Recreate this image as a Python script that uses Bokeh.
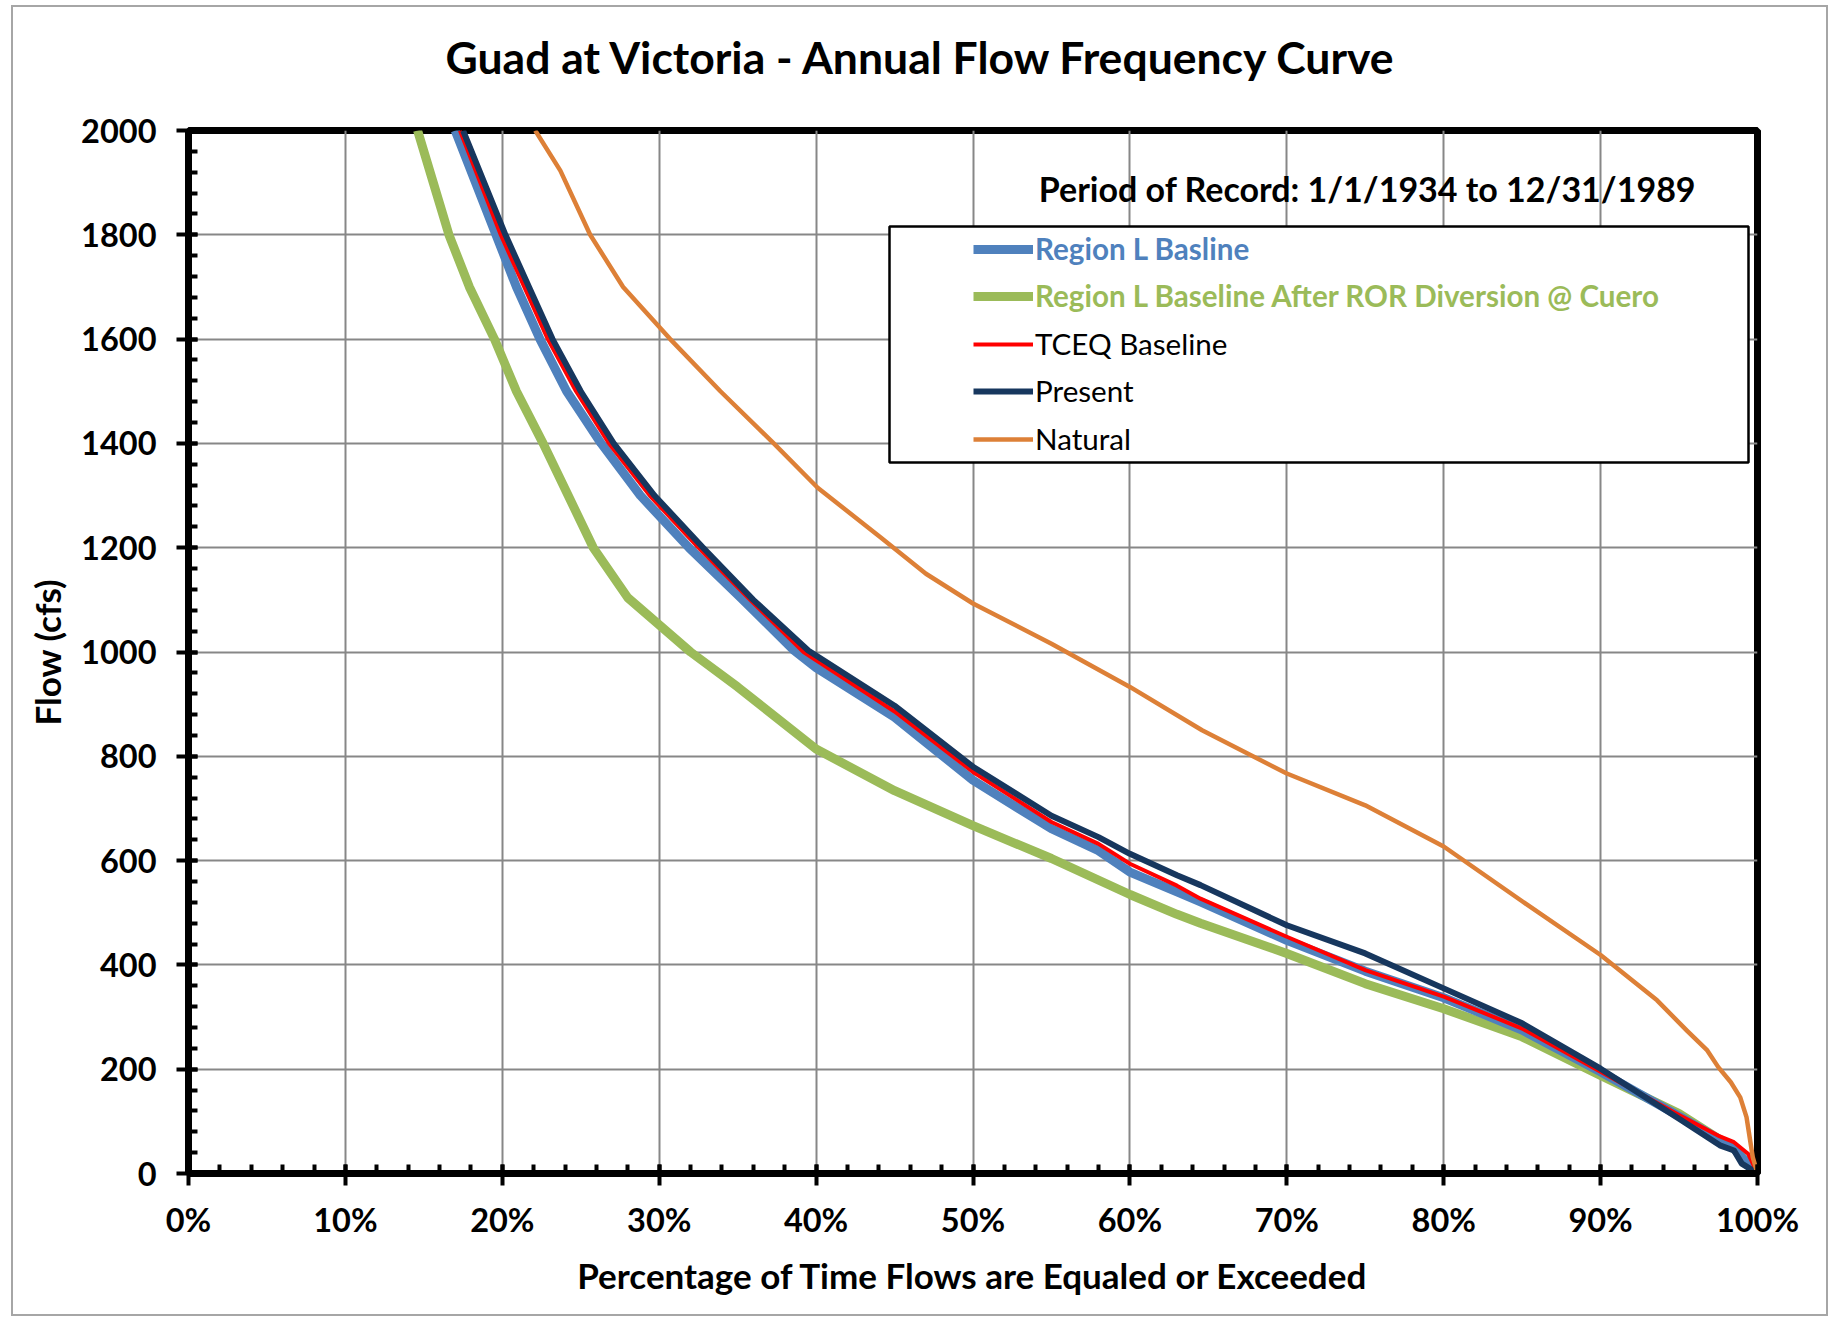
from bokeh.plotting import figure
from bokeh.models import (Range1d, SingleIntervalTicker, PrintfTickFormatter, Legend, LegendItem,
                          BoxAnnotation, Label, InlineStyleSheet)
from bokeh.embed import file_html
from bokeh.resources import INLINE

TITLE = "Guad at Victoria - Annual Flow Frequency Curve"
SUBTITLE = "Period of Record: 1/1/1934 to 12/31/1989"
X_LABEL = "Percentage of Time Flows are Equaled or Exceeded"
Y_LABEL = "Flow (cfs)"

# Region L Basline
regl_pct = [17.0, 19.6, 20.9, 22.4, 24.1, 26.3, 28.8, 31.9, 35.2, 38.6, 40.0, 45.0, 50.0, 55.0,
            58.0, 60.0, 63.0, 64.5, 70.0, 75.0, 80.0, 85.0, 90.0, 95.0, 97.6, 98.5, 99.2, 100.0]
regl_flow = [2000, 1800, 1700, 1600, 1500, 1400, 1300, 1200, 1104, 1003, 970, 875, 754, 661,
             619, 578, 540, 521, 447, 388, 337, 275, 195, 110, 65, 48, 25, 0]

# Region L Baseline After ROR Diversion @ Cuero
ror_pct = [14.6, 15.6, 16.6, 17.9, 19.5, 20.9, 22.6, 24.2, 25.8, 28.0, 32.0, 35.0, 40.0, 45.0,
           50.0, 55.0, 60.0, 63.0, 64.5, 70.0, 75.0, 80.0, 85.0, 90.0, 95.0, 98.5, 100.0]
ror_flow = [2000, 1900, 1800, 1700, 1600, 1500, 1400, 1300, 1200, 1104, 1000, 933, 814, 734,
            667, 604, 535, 497, 480, 422, 364, 316, 262, 188, 115, 48, 0]

# TCEQ Baseline
tceq_pct = [17.3, 19.9, 21.4, 22.9, 24.7, 26.8, 29.4, 32.5, 35.8, 39.2, 45.0, 50.0, 55.0, 58.0,
            60.0, 63.0, 64.5, 70.0, 75.0, 80.0, 85.0, 90.0, 95.0, 97.6, 98.5, 99.4, 100.0]
tceq_flow = [2000, 1800, 1700, 1600, 1500, 1400, 1300, 1200, 1100, 1000, 886, 770, 674, 632,
             594, 552, 527, 454, 390, 339, 278, 195, 112, 71, 60, 38, 0]

# Present
pres_pct = [17.5, 20.2, 21.7, 23.2, 25.0, 27.1, 29.7, 32.8, 36.0, 39.5, 45.0, 50.0, 55.0, 58.0,
            60.0, 63.0, 64.5, 70.0, 75.0, 80.0, 85.0, 90.0, 95.0, 97.6, 98.5, 99.0, 100.0]
pres_flow = [2000, 1800, 1700, 1600, 1500, 1400, 1300, 1200, 1100, 1003, 897, 780, 686, 645,
             613, 572, 553, 476, 422, 355, 288, 201, 105, 54, 44, 19, 0]

# Natural
nat_pct = [22.1, 23.7, 25.6, 27.7, 30.7, 33.9, 37.3, 40.1, 44.1, 47.0, 50.0, 55.0, 60.0, 64.6,
           70.0, 75.0, 80.0, 85.0, 90.0, 93.6, 95.5, 96.8, 97.5, 98.3, 98.9, 99.3, 99.7, 100.0]
nat_flow = [2000, 1923, 1800, 1700, 1600, 1500, 1400, 1315, 1220, 1150, 1093, 1016, 933, 850,
            767, 706, 627, 522, 419, 332, 274, 236, 204, 175, 146, 108, 31, 0]

FONT = "Lato"

p = figure(width=1835, height=1320, output_backend="svg", toolbar_location=None,
           x_range=Range1d(0, 100), y_range=Range1d(0, 2000),
           min_border_left=188, min_border_right=78, min_border_top=130, min_border_bottom=147,
           background_fill_color="white", border_fill_color="white")
# thin grey chart-area border, drawn as an overlay that does not alter the layout
p.stylesheets = [InlineStyleSheet(css=(
    ":host::after { content: ''; position: absolute; top: 5px; left: 11px; right: 7px; "
    "bottom: 4px; border: 2px solid #A6A6A6; pointer-events: none; z-index: 1000; }"))]

p.title.text = TITLE + "\n"
p.title.align = "left"
p.title.offset = 257
p.title.vertical_align = "bottom"
p.title.standoff = -11
p.title.text_font = FONT
p.title.text_font_style = "bold"
p.title.text_font_size = "44.5px"
p.title.text_color = "black"

p.outline_line_color = "black"
p.outline_line_width = 7

# axes
for ax in (p.xaxis[0], p.yaxis[0]):
    ax.axis_line_color = "black"
    ax.axis_line_width = 7
    ax.major_tick_line_color = "black"
    ax.major_tick_line_width = 4
    ax.major_tick_in = 9
    ax.major_tick_out = 12
    ax.minor_tick_line_color = "black"
    ax.minor_tick_line_width = 4
    ax.minor_tick_in = 9
    ax.minor_tick_out = 0
    ax.major_label_text_font = FONT
    ax.major_label_text_font_style = "bold"
    ax.major_label_text_font_size = "32.5px"
    ax.major_label_text_color = "black"
    ax.axis_label_text_font = FONT
    ax.axis_label_text_font_style = "bold"
    ax.axis_label_text_font_size = "35px"
    ax.axis_label_text_color = "black"

xt = SingleIntervalTicker(interval=10, num_minor_ticks=5)
yt = SingleIntervalTicker(interval=200, num_minor_ticks=5)
p.xaxis.ticker = xt
p.yaxis.ticker = yt
p.xgrid.ticker = xt
p.ygrid.ticker = yt
p.xaxis.formatter = PrintfTickFormatter(format="%d%%")
p.xaxis.axis_label = X_LABEL
p.yaxis.axis_label = Y_LABEL
p.xaxis.major_label_standoff = 14
p.yaxis.major_label_standoff = 20
p.xaxis.axis_label_standoff = 12
p.yaxis.axis_label_standoff = 10

for g in (p.xgrid[0], p.ygrid[0]):
    g.grid_line_color = "#878787"
    g.grid_line_width = 2

# series
r_ror = p.line(ror_pct, ror_flow, line_color="#9BBB59", line_width=9, line_join="round")
r_regl = p.line(regl_pct, regl_flow, line_color="#4F81BD", line_width=9, line_join="round")
r_tceq = p.line(tceq_pct, tceq_flow, line_color="#FF0000", line_width=4, line_join="round")
r_pres = p.line(pres_pct, pres_flow, line_color="#17375E", line_width=6, line_join="round")
r_nat = p.line(nat_pct, nat_flow, line_color="#DD8037", line_width=4.5, line_join="round")

# legend frame
p.add_layout(BoxAnnotation(left=889, right=1748, top=226, bottom=462,
                           left_units="canvas", right_units="canvas",
                           top_units="canvas", bottom_units="canvas",
                           fill_color="white", fill_alpha=1, line_color="black",
                           line_alpha=1, line_width=2.5))

entries = [
    ("Region L Basline", r_regl, "#4F81BD", "bold", 249),
    ("Region L Baseline After ROR Diversion @ Cuero", r_ror, "#9BBB59", "bold", 296),
    ("TCEQ Baseline", r_tceq, "black", "normal", 344),
    ("Present", r_pres, "black", "normal", 391),
    ("Natural", r_nat, "black", "normal", 439),
]
for label, rend, color, style, row in entries:
    lg = Legend(items=[LegendItem(label=label, renderers=[rend])],
                location=(785, 1173 - (row + 17)),
                border_line_alpha=0, background_fill_alpha=0,
                padding=0, margin=0, spacing=0,
                glyph_width=60, glyph_height=34, label_height=34, label_standoff=2,
                label_text_font=FONT, label_text_font_size="29.6px",
                label_text_font_style=style, label_text_color=color,
                label_text_baseline="middle")
    p.add_layout(lg)

p.add_layout(Label(x=1367, y=188, x_units="canvas", y_units="canvas", text=SUBTITLE,
                   text_align="center", text_baseline="middle", text_font=FONT,
                   text_font_style="bold", text_font_size="34px", text_color="black"))

open("out.html", "w").write(file_html(p, INLINE))
